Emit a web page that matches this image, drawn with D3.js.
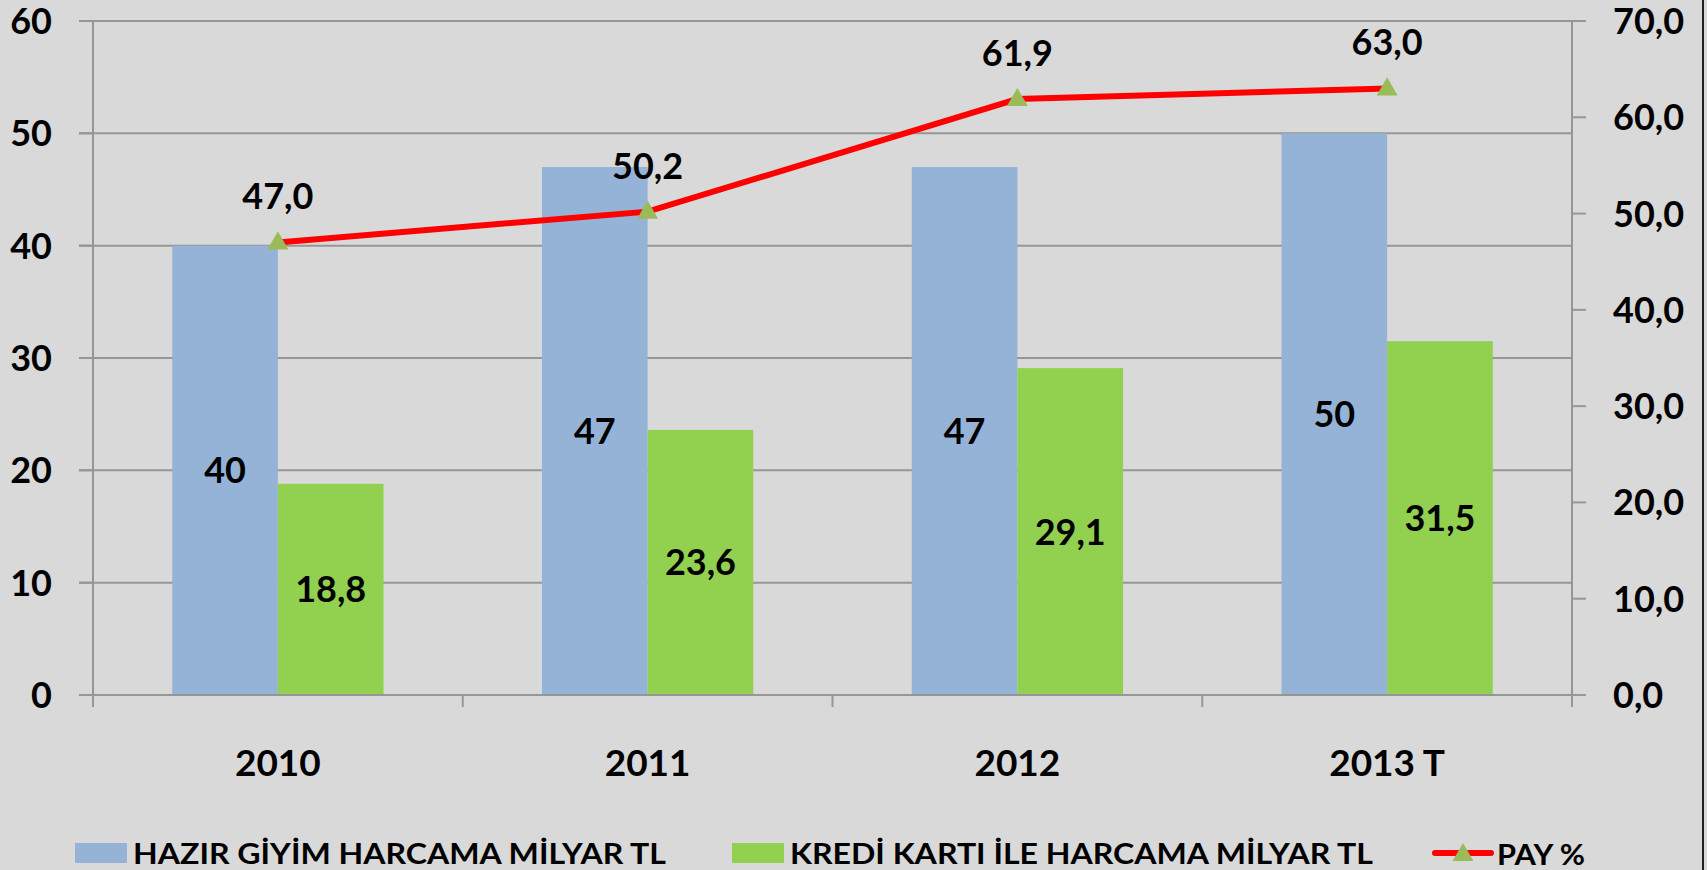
<!DOCTYPE html>
<html>
<head>
<meta charset="utf-8">
<script src="https://cdn.jsdelivr.net/npm/d3@7"></script>
<style>
  body { margin: 0; background: #d9d9d9; }
  text { font-family: Lato, "Open Sans", sans-serif; font-weight: bold; fill: #000; }
  .grid { stroke: #969696; stroke-width: 2; }
  .axisline { stroke: #969696; stroke-width: 2; fill: none; }
</style>
</head>
<body>
<div id="chart"></div>
<script>
var years = ["2010", "2011", "2012", "2013 T"];
var hazirGiyim = [40, 47, 47, 50];
var krediKarti = [18.8, 23.6, 29.1, 31.5];
var pay = [47.0, 50.2, 61.9, 63.0];
var leftTicks = [0, 10, 20, 30, 40, 50, 60];
var rightTicks = [0, 10, 20, 30, 40, 50, 60, 70];
var seriesNames = ["HAZIR GİYİM HARCAMA MİLYAR TL", "KREDİ KARTI İLE HARCAMA MİLYAR TL", "PAY %"];

function init() {

  var w = 1707;
  var h = 870;

  var left = 93, right = 1572, top = 21, bottom = 695;

  var fmt = function(v) { return v.toFixed(1).replace(".", ","); };

  var xScale = d3.scaleBand()
                 .domain(years)
                 .range([left, right]);

  // gap width 150% like excel: two bars + 1.5 bar gap per band
  var barW = xScale.bandwidth() / 3.5;

  var yScale = d3.scaleLinear()
                 .domain([0, 60])
                 .range([bottom, top]);

  var y2Scale = d3.scaleLinear()
                  .domain([0, 70])
                  .range([bottom, top]);

  var svg = d3.select("#chart")
              .append("svg")
              .attr("width", w)
              .attr("height", h);

  svg.append("rect")
     .attr("width", w)
     .attr("height", h)
     .attr("fill", "#d9d9d9");

  // gridlines
  svg.selectAll(".grid")
     .data(leftTicks.slice(1))
     .enter()
     .append("line")
     .attr("class", "grid")
     .attr("x1", left - 14)
     .attr("x2", right)
     .attr("y1", function(d) { return yScale(d); })
     .attr("y2", function(d) { return yScale(d); });

  // bars
  svg.selectAll(".barA")
     .data(hazirGiyim)
     .enter()
     .append("rect")
     .attr("class", "barA")
     .attr("x", function(d, i) { return xScale(years[i]) + xScale.bandwidth() / 2 - barW; })
     .attr("y", function(d) { return yScale(d); })
     .attr("width", barW)
     .attr("height", function(d) { return yScale(0) - yScale(d); })
     .attr("fill", "#95b3d7");

  svg.selectAll(".barB")
     .data(krediKarti)
     .enter()
     .append("rect")
     .attr("class", "barB")
     .attr("x", function(d, i) { return xScale(years[i]) + xScale.bandwidth() / 2; })
     .attr("y", function(d) { return yScale(d); })
     .attr("width", barW)
     .attr("height", function(d) { return yScale(0) - yScale(d); })
     .attr("fill", "#92d050");

  // axes lines
  svg.append("line")
     .attr("class", "axisline")
     .attr("x1", left - 14).attr("x2", right + 14)
     .attr("y1", yScale(0)).attr("y2", yScale(0));

  svg.append("line")
     .attr("class", "axisline")
     .attr("x1", left).attr("x2", left)
     .attr("y1", top).attr("y2", bottom + 12);

  svg.append("line")
     .attr("class", "axisline")
     .attr("x1", right).attr("x2", right)
     .attr("y1", top).attr("y2", bottom + 12);

  svg.selectAll(".ltick")
     .data(leftTicks)
     .enter()
     .append("line")
     .attr("class", "axisline")
     .attr("x1", left - 14).attr("x2", left)
     .attr("y1", function(d) { return yScale(d); })
     .attr("y2", function(d) { return yScale(d); });

  svg.selectAll(".rtick")
     .data(rightTicks)
     .enter()
     .append("line")
     .attr("class", "axisline")
     .attr("x1", right).attr("x2", right + 14)
     .attr("y1", function(d) { return y2Scale(d); })
     .attr("y2", function(d) { return y2Scale(d); });

  svg.selectAll(".xtick")
     .data(years.slice(1))
     .enter()
     .append("line")
     .attr("class", "axisline")
     .attr("x1", function(d) { return xScale(d); })
     .attr("x2", function(d) { return xScale(d); })
     .attr("y1", bottom).attr("y2", bottom + 12);

  // tick labels
  svg.selectAll(".llab")
     .data(leftTicks)
     .enter()
     .append("text")
     .attr("x", 52)
     .attr("y", function(d) { return yScale(d) + 13; })
     .attr("text-anchor", "end")
     .style("font-size", "36px")
     .text(function(d) { return d; });

  svg.selectAll(".rlab")
     .data(rightTicks)
     .enter()
     .append("text")
     .attr("x", 1613)
     .attr("y", function(d) { return y2Scale(d) + 13; })
     .style("font-size", "36px")
     .text(function(d) { return fmt(d); });

  svg.selectAll(".xlab")
     .data(years)
     .enter()
     .append("text")
     .attr("x", function(d) { return xScale(d) + xScale.bandwidth() / 2; })
     .attr("y", 776)
     .attr("text-anchor", "middle")
     .style("font-size", "37px")
     .text(function(d) { return d; });

  // bar value labels
  svg.selectAll(".labA")
     .data(hazirGiyim)
     .enter()
     .append("text")
     .attr("x", function(d, i) { return xScale(years[i]) + xScale.bandwidth() / 2 - barW / 2; })
     .attr("y", function(d) { return (yScale(d) + yScale(0)) / 2 + 13; })
     .attr("text-anchor", "middle")
     .style("font-size", "36px")
     .text(function(d) { return d; });

  svg.selectAll(".labB")
     .data(krediKarti)
     .enter()
     .append("text")
     .attr("x", function(d, i) { return xScale(years[i]) + xScale.bandwidth() / 2 + barW / 2; })
     .attr("y", function(d) { return (yScale(d) + yScale(0)) / 2 + 13; })
     .attr("text-anchor", "middle")
     .style("font-size", "36px")
     .text(function(d) { return fmt(d); });

  // pay line
  var line = d3.line()
               .x(function(d, i) { return xScale(years[i]) + xScale.bandwidth() / 2; })
               .y(function(d) { return y2Scale(d); });

  svg.append("path")
     .datum(pay)
     .attr("d", line)
     .attr("fill", "none")
     .attr("stroke", "#ff0000")
     .attr("stroke-width", 6);

  var tri = d3.symbol().type(d3.symbolTriangle).size(190);

  svg.selectAll(".mark")
     .data(pay)
     .enter()
     .append("path")
     .attr("d", tri)
     .attr("transform", function(d, i) {
       return "translate(" + (xScale(years[i]) + xScale.bandwidth() / 2) + "," + (y2Scale(d) + 1) + ")";
     })
     .attr("fill", "#9bbb59");

  svg.selectAll(".payLab")
     .data(pay)
     .enter()
     .append("text")
     .attr("x", function(d, i) { return xScale(years[i]) + xScale.bandwidth() / 2; })
     .attr("y", function(d) { return y2Scale(d) - 33; })
     .attr("text-anchor", "middle")
     .style("font-size", "36px")
     .text(function(d) { return fmt(d); });

  // legend
  svg.append("rect")
     .attr("x", 75).attr("y", 843)
     .attr("width", 52).attr("height", 20)
     .attr("fill", "#95b3d7");

  svg.append("text")
     .attr("x", 133).attr("y", 864)
     .attr("textLength", 533)
     .attr("lengthAdjust", "spacingAndGlyphs")
     .style("font-size", "29px")
     .text(seriesNames[0]);

  svg.append("rect")
     .attr("x", 732).attr("y", 843)
     .attr("width", 52).attr("height", 20)
     .attr("fill", "#92d050");

  svg.append("text")
     .attr("x", 790).attr("y", 864)
     .attr("textLength", 583)
     .attr("lengthAdjust", "spacingAndGlyphs")
     .style("font-size", "29px")
     .text(seriesNames[1]);

  svg.append("line")
     .attr("x1", 1435).attr("x2", 1491)
     .attr("y1", 853).attr("y2", 853)
     .attr("stroke", "#ff0000")
     .attr("stroke-width", 6)
     .attr("stroke-linecap", "round");

  svg.append("path")
     .attr("d", tri)
     .attr("transform", "translate(1463,855)")
     .attr("fill", "#9bbb59");

  svg.append("text")
     .attr("x", 1497).attr("y", 865)
     .attr("textLength", 88)
     .attr("lengthAdjust", "spacingAndGlyphs")
     .style("font-size", "29px")
     .text(seriesNames[2]);

  // frame edge on the right
  svg.append("line")
     .attr("x1", 1703).attr("x2", 1703)
     .attr("y1", 0).attr("y2", h)
     .attr("stroke", "#222")
     .attr("stroke-width", 2);
}

window.onload = init;
</script>
</body>
</html>
